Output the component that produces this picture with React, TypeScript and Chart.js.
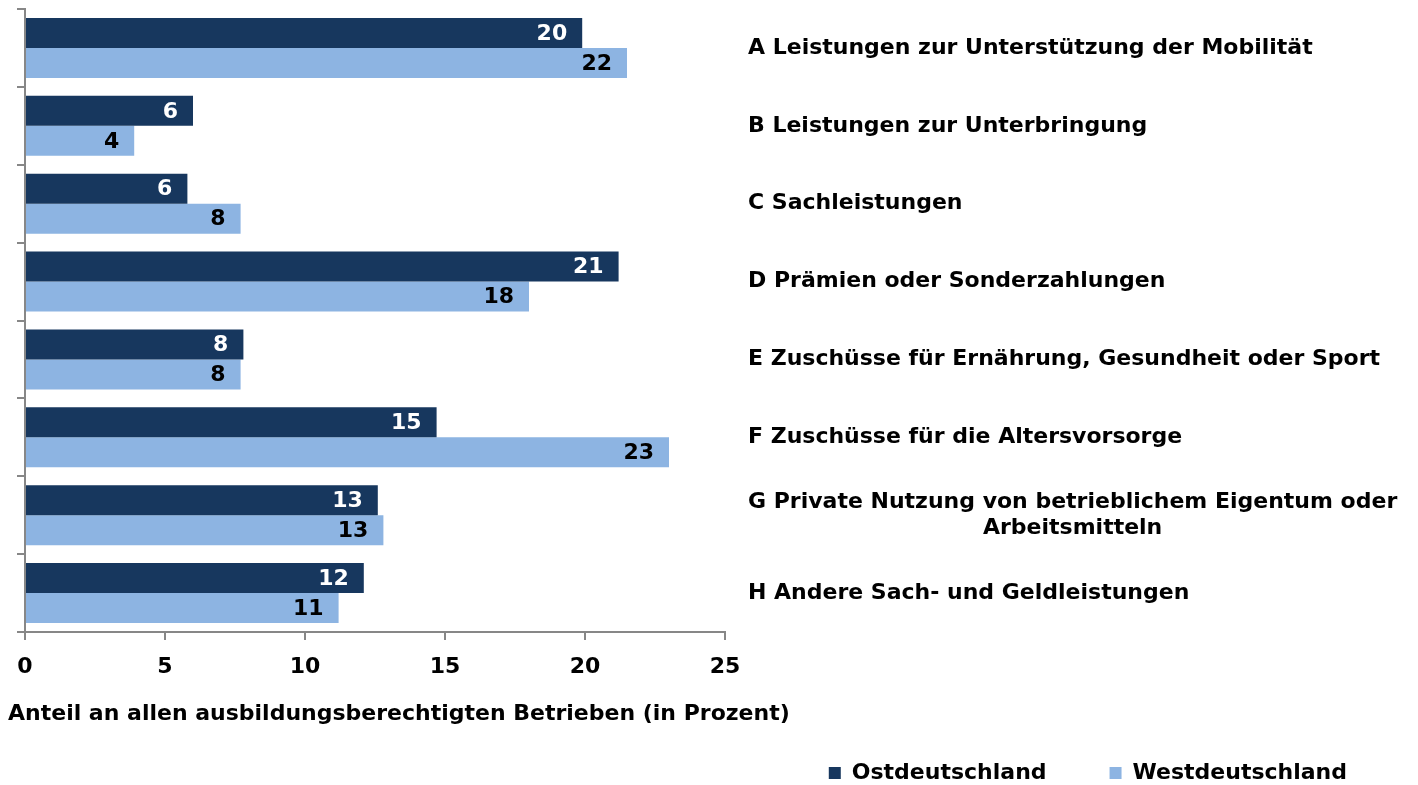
import React, { useEffect, useRef } from 'react';
import { Chart, registerables } from 'chart.js';

Chart.register(...registerables);

// ---------- data ----------
const categories: (string | string[])[] = [
  'A Leistungen zur Unterstützung der Mobilität',
  'B Leistungen zur Unterbringung',
  'C Sachleistungen',
  'D Prämien oder Sonderzahlungen',
  'E Zuschüsse für Ernährung, Gesundheit oder Sport',
  'F Zuschüsse für die Altersvorsorge',
  ['G Private Nutzung von betrieblichem Eigentum oder', 'Arbeitsmitteln'],
  'H Andere Sach- und Geldleistungen',
];
const ostValues = [19.9, 6.0, 5.8, 21.2, 7.8, 14.7, 12.6, 12.1];
const westValues = [21.5, 3.9, 7.7, 18.0, 7.7, 23.0, 12.8, 11.2];
const seriesNames = ['Ostdeutschland', 'Westdeutschland'];
const axisTitle = 'Anteil an allen ausbildungsberechtigten Betrieben (in Prozent)';
const xMin = 0;
const xMax = 25;
const xStep = 5;

// ---------- styles ----------
const FAMILY = '"DejaVu Sans", "Liberation Sans", Arial, sans-serif';
const FONT = { family: FAMILY, size: 22, weight: 'bold' as const };
const AXIS = '#878787';
const seriesColors = ['#17375E', '#8DB4E2'];
const valueLabelColors = ['#FFFFFF', '#000000'];

const valueLabelPlugin = {
  id: 'valueLabels',
  afterDatasetsDraw(chart: any) {
    const ctx = chart.ctx;
    ctx.save();
    ctx.font = `bold 22px ${FAMILY}`;
    ctx.textAlign = 'right';
    ctx.textBaseline = 'middle';
    chart.data.datasets.forEach((ds: any, di: number) => {
      const meta = chart.getDatasetMeta(di);
      meta.data.forEach((bar: any, i: number) => {
        const v = ds.data[i] as number;
        ctx.fillStyle = valueLabelColors[di];
        ctx.fillText(String(Math.round(v)), bar.x - 15, bar.y + 1);
      });
    });
    ctx.restore();
  },
};

const categoryLabelPlugin = {
  id: 'categoryLabels',
  afterDraw(chart: any) {
    const ctx = chart.ctx;
    const yScale = chart.scales.y;
    const x0 = chart.chartArea.right + 23;
    ctx.save();
    ctx.font = `bold 22px ${FAMILY}`;
    ctx.fillStyle = '#000000';
    ctx.textBaseline = 'middle';
    (chart.data.labels as (string | string[])[]).forEach((lab, i) => {
      const lines = Array.isArray(lab) ? lab : [lab];
      const cy = yScale.getPixelForValue(i);
      const w0 = ctx.measureText(lines[0]).width;
      lines.forEach((ln, j) => {
        const ly = cy + (j - (lines.length - 1) / 2) * 26;
        if (j === 0) {
          ctx.textAlign = 'left';
          ctx.fillText(ln, x0, ly);
        } else {
          ctx.textAlign = 'center';
          ctx.fillText(ln, x0 + w0 / 2, ly);
        }
      });
    });
    ctx.restore();
  },
};

export default function App() {
  const canvasRef = useRef<HTMLCanvasElement | null>(null);

  useEffect(() => {
    if (!canvasRef.current) return;
    const chart = new Chart(canvasRef.current, {
      type: 'bar',
      data: {
        labels: categories as any,
        datasets: [
          {
            label: seriesNames[0],
            data: ostValues,
            backgroundColor: seriesColors[0],
            borderWidth: 0,
            categoryPercentage: 0.77,
            barPercentage: 1,
          },
          {
            label: seriesNames[1],
            data: westValues,
            backgroundColor: seriesColors[1],
            borderWidth: 0,
            categoryPercentage: 0.77,
            barPercentage: 1,
          },
        ],
      },
      options: {
        indexAxis: 'y',
        responsive: false,
        animation: false,
        devicePixelRatio: 1,
        layout: { padding: { top: 9, left: 8, right: 8, bottom: -9 } },
        plugins: {
          legend: {
            display: true,
            position: 'bottom',
            align: 'end',
            weight: 1000,
            labels: {
              boxWidth: 12,
              boxHeight: 12,
              padding: 63,
              color: '#000000',
              font: FONT,
            },
          },
          title: {
            display: true,
            text: axisTitle,
            position: 'bottom',
            align: 'start',
            weight: 500,
            color: '#000000',
            font: FONT,
            padding: { top: 6.9, bottom: -28.7 },
          },
          tooltip: { enabled: false },
        },
        scales: {
          x: {
            type: 'linear',
            position: 'bottom',
            min: xMin,
            max: xMax,
            ticks: { stepSize: xStep, padding: 14, color: '#000000', font: FONT },
            grid: {
              display: true,
              drawOnChartArea: false,
              drawTicks: true,
              tickLength: 8,
              color: AXIS,
              lineWidth: 2,
            },
            border: { display: true, color: AXIS, width: 2 },
          },
          y: {
            type: 'category',
            position: 'left',
            offset: true,
            ticks: { display: false },
            grid: {
              display: true,
              offset: true,
              drawOnChartArea: false,
              drawTicks: true,
              tickLength: 8,
              color: AXIS,
              lineWidth: 2,
            },
            border: { display: true, color: AXIS, width: 2 },
            afterFit: (s: any) => {
              s.width = 17;
            },
          },
          y2: {
            type: 'category',
            position: 'right',
            ticks: { display: false },
            grid: { display: false },
            border: { display: false },
            afterFit: (s: any) => {
              s.width = 685;
            },
          },
        },
      } as any,
      plugins: [valueLabelPlugin, categoryLabelPlugin],
    });
    return () => chart.destroy();
  }, []);

  return (
    <div style={{ position: 'absolute', left: 0, top: 0, width: 1418, height: 785, background: '#ffffff' }}>
      <canvas ref={canvasRef} width={1418} height={785} style={{ display: 'block' }} />
    </div>
  );
}
